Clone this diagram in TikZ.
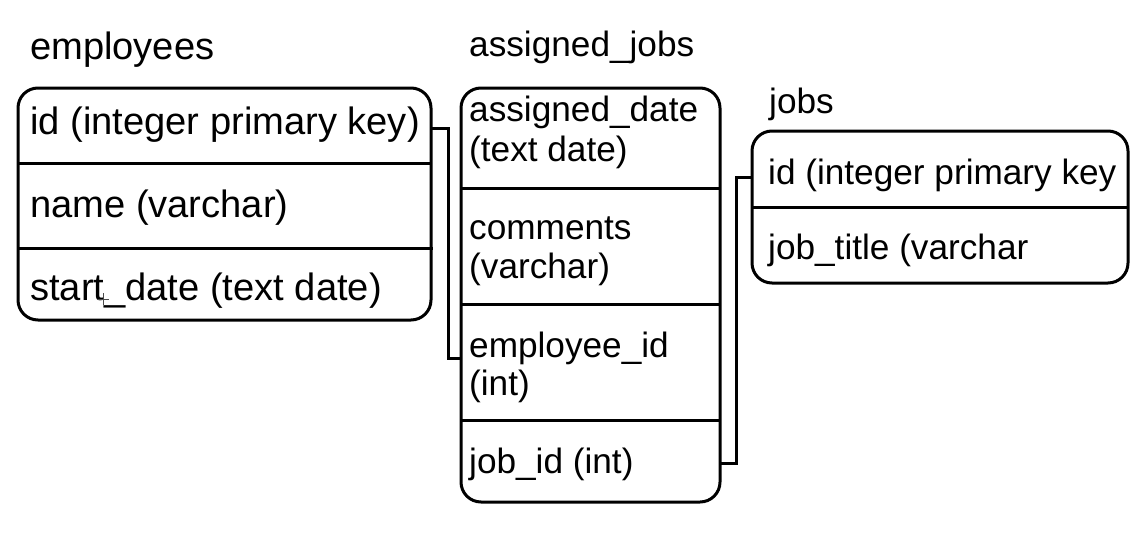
\documentclass[tikz,border=0pt]{standalone}
\usepackage{fontspec}
\setmainfont{Liberation Sans}
\begin{document}
\begin{tikzpicture}[x=1pt,y=-1pt,
  tbl/.style={draw, line width=3pt, rounded corners=20pt, inner sep=0pt, outer sep=0pt, anchor=north west},
  big/.style={font=\fontsize{38.1}{40}\selectfont, inner sep=0pt, anchor=base west},
  med/.style={font=\fontsize{35.2}{40}\selectfont, inner sep=0pt, anchor=base west},
  rowrule/.style={line width=3pt},
  link/.style={line width=3pt}]
\useasboundingbox (0,0) rectangle (1135,533);

% tables
\node[tbl, minimum width=413pt, minimum height=232pt] (emp) at (18,88) {};
\node[tbl, minimum width=259pt, minimum height=414pt] (ajob) at (461,88) {};
\node[tbl, minimum width=376pt, minimum height=152pt] (jobs) at (752,131) {};

% row separators
\draw[rowrule] (18,163) -- (431,163);
\draw[rowrule] (18,248) -- (433,248);
\draw[rowrule] (461,188) -- (720,188);
\draw[rowrule] (461,304) -- (720,304);
\draw[rowrule] (461,420) -- (720,420);
\draw[rowrule] (752,207) -- (1128,207);

% titles
\node[big] (tEmp) at (30,59) {employees};
\node[med] (tAjob) at (469,56) {assigned\_jobs};
\node[med] (tJobs) at (769,113) {jobs};

% employees fields
\node[big] (e1) at (30,134) {id (integer primary key)};
\node[big] (e2) at (30,217) {name (varchar)};
\node[big] (e3) at (30,300) {start\_date (text date)};

% assigned_jobs fields
\node[med] (a1) at (469,121) {assigned\_date};
\node[med] (a1b) at (469,161) {(text date)};
\node[med] (a2) at (469,239) {comments};
\node[med] (a2b) at (469,278) {(varchar)};
\node[med] (a3) at (469,357) {employee\_id};
\node[med] (a3b) at (469,395) {(int)};
\node[med] (a4) at (469,473) {job\_id (int)};

% jobs fields
\node[med] (j1) at (768,184) {id (integer primary key};
\node[med] (j2) at (768,259) {job\_title (varchar};

% connector end points
\path (emp.north east) ++(0,40) coordinate (p1);
\path (ajob.north west) ++(0,270) coordinate (p2);
\path (ajob.north east) ++(0,375) coordinate (p3);
\path (jobs.north west) ++(0,46) coordinate (p4);

\draw[link] (p1) -- ++(17,0) |- (p2);
\draw[link] (p3) -- ++(16,0) |- (p4);

% small cursor mark
\draw[line width=0.8pt, black!70] (97,299) -- (109,299) (103,293) -- (103,305);
\end{tikzpicture}
\end{document}
